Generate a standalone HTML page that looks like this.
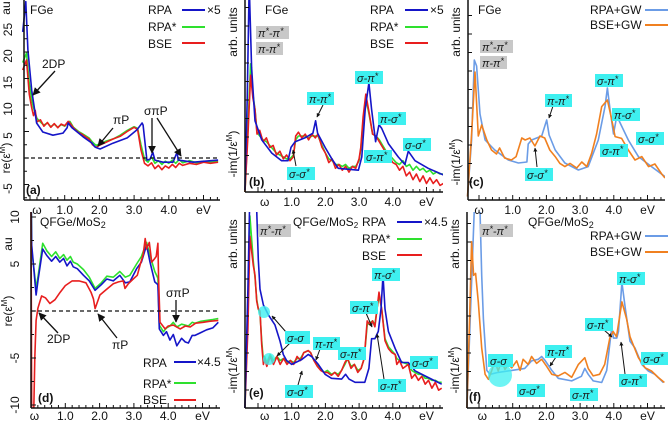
<!DOCTYPE html>
<html><head><meta charset="utf-8"><style>
html,body{margin:0;padding:0;background:#fff;}
svg{display:block;font-family:"Liberation Sans",sans-serif;}
.t{font-size:12px;fill:#111;}
.lb{font-size:11px;font-style:italic;fill:#1a1a1a;}
</style></head><body>
<svg id="fig" width="668" height="424" viewBox="0 0 668 424" xmlns="http://www.w3.org/2000/svg">
<defs>
<marker id="ah" viewBox="0 0 10 10" refX="9" refY="5" markerWidth="6" markerHeight="6" orient="auto"><path d="M0,0 L10,5 L0,10 z" fill="#111"/></marker>
<marker id="ahs" viewBox="0 0 10 10" refX="9" refY="5" markerWidth="4" markerHeight="4" orient="auto"><path d="M0,0 L10,5 L0,10 z" fill="#111"/></marker>
</defs>
<g id="layer-curves"></g>
<g id="layer-axes"></g>

<g>
<text class="t" x="30" y="14">FGe</text>
<text class="t" x="148" y="14" font-size="13">RPA</text>
<line x1="182" y1="10" x2="205" y2="10" stroke="#1515c8" stroke-width="2"/>
<text class="t" x="207" y="14">×5</text>
<text class="t" x="148" y="31" font-size="13">RPA*</text>
<line x1="182" y1="27" x2="205" y2="27" stroke="#2ee02e" stroke-width="2"/>
<text class="t" x="148" y="48" font-size="13">BSE</text>
<line x1="182" y1="43" x2="205" y2="43" stroke="#e81e1e" stroke-width="2"/>
<text class="t" x="42" y="68">2DP</text>
<line x1="55" y1="71" x2="33" y2="95" stroke="#111" stroke-width="1.3" marker-end="url(#ah)"/>
<text class="t" x="113" y="124">πP</text>
<line x1="113" y1="128" x2="98" y2="146" stroke="#111" stroke-width="1.3" marker-end="url(#ah)"/>
<text class="t" x="144" y="115">σπP</text>
<line x1="152" y1="118" x2="152" y2="153" stroke="#111" stroke-width="1.3" marker-end="url(#ah)"/>
<line x1="157" y1="118" x2="181" y2="156" stroke="#111" stroke-width="1.3" marker-end="url(#ah)"/>
<text class="t" x="26" y="194" font-weight="bold">(a)</text>
</g>
<g>
<text class="t" x="265" y="14">FGe</text>
<text class="t" x="370" y="14" font-size="13">RPA</text>
<line x1="405" y1="10" x2="428" y2="10" stroke="#1515c8" stroke-width="2"/>
<text class="t" x="430" y="14">×5</text>
<text class="t" x="370" y="31" font-size="13">RPA*</text>
<line x1="405" y1="27" x2="428" y2="27" stroke="#2ee02e" stroke-width="2"/>
<text class="t" x="370" y="48" font-size="13">BSE</text>
<line x1="405" y1="43" x2="428" y2="43" stroke="#e81e1e" stroke-width="2"/>
<text class="t" x="249" y="186" font-weight="bold">(b)</text>
<line x1="323" y1="105" x2="317" y2="117" stroke="#111" marker-end="url(#ahs)"/>
<line x1="296" y1="166" x2="293" y2="150" stroke="#111" marker-end="url(#ahs)"/>
</g>
<g>
<text class="t" x="478" y="14">FGe</text>
<text class="t" x="590" y="14" font-size="13">RPA+GW</text>
<line x1="645" y1="10" x2="668" y2="10" stroke="#6b9ce6" stroke-width="2"/>
<text class="t" x="590" y="29" font-size="13">BSE+GW</text>
<line x1="645" y1="25" x2="668" y2="25" stroke="#f08020" stroke-width="2"/>
<text class="t" x="469" y="186" font-weight="bold">(c)</text>
<line x1="553" y1="106" x2="549" y2="118" stroke="#111" marker-end="url(#ahs)"/>
<line x1="537" y1="167" x2="535" y2="148" stroke="#111" marker-end="url(#ahs)"/>
</g>
<g>
<text class="t" x="40" y="226">QFGe/MoS<tspan font-size="9" dy="2">2</tspan></text>
<text class="t" x="143" y="367" font-size="13">RPA</text>
<line x1="174" y1="362" x2="196" y2="362" stroke="#1515c8" stroke-width="2"/>
<text class="t" x="197" y="366">×4.5</text>
<text class="t" x="143" y="388" font-size="13">RPA*</text>
<line x1="174" y1="383" x2="196" y2="383" stroke="#2ee02e" stroke-width="2"/>
<text class="t" x="143" y="404" font-size="13">BSE</text>
<line x1="174" y1="400" x2="196" y2="400" stroke="#e81e1e" stroke-width="2"/>
<text class="t" x="38" y="402" font-weight="bold">(d)</text>
<text class="t" x="47" y="343">2DP</text>
<line x1="58" y1="333" x2="39" y2="313" stroke="#111" stroke-width="1.3" marker-end="url(#ah)"/>
<text class="t" x="112" y="349">πP</text>
<line x1="117" y1="338" x2="98" y2="314" stroke="#111" stroke-width="1.3" marker-end="url(#ah)"/>
<text class="t" x="166" y="297">σπP</text>
<line x1="176" y1="300" x2="176" y2="322" stroke="#111" stroke-width="1.3" marker-end="url(#ah)"/>
</g>
<g>
<circle cx="264" cy="312" r="6" fill="#3ef0f0" opacity="0.8"/>
<circle cx="269" cy="359" r="6" fill="#3ef0f0" opacity="0.8"/>
<text class="t" x="293" y="226" font-size="11.5">QFGe/MoS<tspan font-size="8" dy="2">2</tspan></text>
<text class="t" x="362" y="226" font-size="13">RPA</text>
<line x1="397" y1="222" x2="422" y2="222" stroke="#1515c8" stroke-width="2"/>
<text class="t" x="424" y="226">×4.5</text>
<text class="t" x="362" y="243" font-size="13">RPA*</text>
<line x1="397" y1="239" x2="422" y2="239" stroke="#2ee02e" stroke-width="2"/>
<text class="t" x="362" y="260" font-size="13">BSE</text>
<line x1="397" y1="255" x2="422" y2="255" stroke="#e81e1e" stroke-width="2"/>
<text class="t" x="249" y="397" font-weight="bold">(e)</text>
<line x1="286" y1="332" x2="272" y2="316" stroke="#111" marker-end="url(#ahs)"/>
<line x1="290" y1="343" x2="277" y2="356" stroke="#111" marker-end="url(#ahs)"/>
<line x1="320" y1="349" x2="316" y2="360" stroke="#111" marker-end="url(#ahs)"/>
<line x1="298" y1="385" x2="302" y2="371" stroke="#111" marker-end="url(#ahs)"/>
<line x1="366" y1="313" x2="372" y2="327" stroke="#111" marker-end="url(#ahs)"/>
<line x1="384" y1="379" x2="377" y2="334" stroke="#111" marker-end="url(#ahs)"/>
</g>
<g>
<circle cx="500" cy="375" r="12" fill="#3ef0f0" opacity="0.75"/>
<text class="t" x="528" y="226">QFGe/MoS<tspan font-size="9" dy="2">2</tspan></text>
<text class="t" x="590" y="240" font-size="13">RPA+GW</text>
<line x1="645" y1="236" x2="668" y2="236" stroke="#6b9ce6" stroke-width="2"/>
<text class="t" x="590" y="256" font-size="13">BSE+GW</text>
<line x1="645" y1="252" x2="668" y2="252" stroke="#f08020" stroke-width="2"/>
<text class="t" x="469" y="401" font-weight="bold">(f)</text>
<line x1="604" y1="330" x2="612" y2="337" stroke="#111" marker-end="url(#ahs)"/>
<line x1="556" y1="357" x2="550" y2="366" stroke="#111" marker-end="url(#ahs)"/>
<line x1="625" y1="374" x2="621" y2="342" stroke="#111" marker-end="url(#ahs)"/>
</g>
<g id="layer-labels"></g>
</svg>
<script>
const aE_rpa=[-0.21,-0.12,-0.06,0.05,0.19,0.37,0.66,0.95,1.07,1.1,1.21,1.53,1.79,1.87,1.93,2.02,2.39,2.8,3.08,3.23,3.26,3.37,3.46,3.54,3.6,3.83,4.12,4.24,4.27,4.7,5.42];
const aV_rpa=[23.8,29.5,20.4,12.8,6.6,4.9,4.3,4.7,5.7,6.6,5.7,4.0,2.8,2.1,1.9,1.7,2.8,3.8,5.3,6.6,6.2,-0.4,-0.2,1.1,-0.4,-0.8,-0.8,1.1,-0.4,-0.8,-0.4];
const aE_x=[-0.21,-0.1,-0.02,0.05,0.1,0.15,0.2,0.3,0.4,0.5,0.6,0.7,0.8,0.9,1.0,1.1,1.15,1.25,1.4,1.5,1.6,1.7,1.8,1.9,2.0,2.2,2.4,2.6,2.8,3.0,3.1,3.2,3.3,3.4,3.5,3.6,3.7,3.8,3.9,4.0,4.1,4.2,4.3,4.4,4.6,4.8,5.0,5.2,5.42];
const aV_rpas=[18.0,19.8,14,11,9.5,8.5,7.5,6.8,6.2,6.6,5.9,6.4,5.8,6.3,6.0,6.8,6.9,5.8,5.0,4.6,4.2,3.8,3.0,2.4,2.6,3.2,3.6,4.3,5.2,5.9,5.6,2.5,-0.2,-0.8,0.2,-1.0,-0.5,-1.2,-0.6,-1.0,-0.4,-1.0,-0.3,-0.9,-0.5,-0.9,-0.6,-0.8,-0.6];
const aV_bse=[16.6,18.5,12,9.5,8.0,9.0,6.8,7.2,6.0,6.7,5.8,6.5,5.7,6.4,6.1,6.9,6.6,5.7,4.8,4.5,4.0,3.6,2.5,2.0,2.4,3.0,3.6,4.1,5.0,5.8,5.4,1.5,-1.0,-1.5,-0.9,-2.0,-1.4,-2.2,-1.5,-1.9,-1.2,-1.8,-1.0,-1.4,-1.0,-1.2,-0.8,-1.0,-0.8];

const bE_rpa=[-0.39,-0.32,-0.26,-0.19,-0.09,0.11,0.41,0.7,0.89,0.98,1.1,1.39,1.63,1.71,1.77,1.99,2.19,2.38,2.98,3.08,3.18,3.29,3.37,3.49,3.59,3.67,3.87,4.16,4.36,4.46,4.66,5.05,5.5];
const bV_rpa=[1.6,49,110,66,38,28,21,17,17,24,27,29,31.5,38,31.5,24,18,13,12,19,44,58,44,27,36,34,26,19,15,22,17,13,9.5];
const bE_x=[-0.39,-0.3,-0.22,-0.15,-0.09,-0.03,0.05,0.15,0.25,0.35,0.45,0.55,0.65,0.75,0.85,0.95,1.05,1.12,1.2,1.3,1.4,1.5,1.6,1.7,1.78,1.9,2.0,2.1,2.2,2.3,2.4,2.5,2.6,2.7,2.8,2.9,3.0,3.05,3.12,3.2,3.3,3.4,3.5,3.6,3.7,3.8,3.9,4.0,4.1,4.2,4.3,4.4,4.5,4.6,4.7,4.8,4.9,5.0,5.1,5.2,5.3,5.4,5.5];
const bV_rpas=[0,34,68,52,44,32,30,28,27,25,23,21,20,19,18,18,20,28,30,30,30,29,30,30,30,25,21,18,17,15,15,14,15,13,14,14,17,23,38,50,41,31,30,28,25,22,20,18,16,15,17,14,15,12,14,12,13,11,12,10,11,10,10];
const bV_bse=[0,30,62,50,44,31,33,27,29,24,25,20,22,18,20,17,19,30,32,29,31,28,31,29,31,24,21,16,18,13,15,12,14,11,14,13,18,24,40,52,42,31,30,27,24,21,19,16,15,12,14,9,11,7,10,6,9,5,8,5,7,4,5];

const cE_rpagw=[-0.34,-0.22,-0.14,-0.07,0.03,0.18,0.47,0.87,1.17,1.42,1.46,1.56,1.86,2.01,2.08,2.26,2.55,2.95,3.24,3.54,3.74,3.81,3.89,3.99,4.09,4.23,4.43,4.73,5.12,5.52];
const cV_rpagw=[1.7,30,70,67,43,30,25,20,18.5,19,28,30,32,40,32.5,25,18.5,15,16.7,30,46.7,56,45,33,42,37,30,21.7,16.7,11.7];
const cE_bsegw=[-0.34,-0.22,-0.12,-0.02,0.08,0.23,0.37,0.52,0.61,0.76,0.96,1.1,1.27,1.37,1.51,1.66,1.81,1.95,2.1,2.26,2.4,2.55,2.7,2.9,3.05,3.2,3.34,3.49,3.64,3.81,3.94,4.04,4.23,4.43,4.63,4.83,5.03,5.22,5.42,5.52];
const cV_bsegw=[1.7,33,64,32,37.5,30,25,23,26,21,20,21.7,31,30,31,27,32,31,25,21.7,18.3,16.7,18.3,16,19,16.7,23.3,33,46.7,50,40,31.7,30.8,25,20,21.7,16.7,18,13,11];

const dE_x=[0.0,0.01,0.02,0.07,0.15,0.21,0.34,0.46,0.6,0.72,0.84,0.95,1.05,1.15,1.23,1.35,1.53,1.7,1.87,2.05,2.21,2.4,2.59,2.75,2.88,3.08,3.22,3.37,3.47,3.61,3.7,3.74,3.86,3.95,4.05,4.15,4.25,4.39,4.5,4.59,4.7,4.78,4.95,5.12,5.3,5.46];
const dV_rpa=[12,11,7.0,5.0,1.7,3.4,6.6,5.9,5.3,5.8,5.2,5.6,4.8,5.3,4.7,4.5,3.8,3.2,2.2,2.8,3.4,3.2,3.8,3.0,3.1,4.5,5.2,7.0,5.2,3.1,2.8,-1.9,-2.6,-2.2,-3.1,-2.5,-3.7,-2.9,-3.3,-3.4,-2.6,-2.6,-2.3,-2.0,-1.8,-1.2];
const dV_rpas=[12,11,6.5,5.0,2.4,3.8,7.2,6.4,5.8,6.3,5.6,6.0,5.4,5.8,5.2,5.0,4.4,3.6,2.4,3.0,3.7,3.6,4.2,3.6,3.8,5.0,5.8,7.3,5.9,4.2,3.5,-1.5,-2.2,-1.8,-1.6,-1.2,-1.7,-1.4,-1.5,-1.6,-1.2,-1.3,-1.1,-1.0,-0.9,-0.8];
const dE_bse=[0.0,0.02,0.04,0.06,0.08,0.11,0.15,0.2,0.31,0.42,0.55,0.7,0.85,1.0,1.2,1.4,1.6,1.75,1.82,1.87,2.01,2.2,2.4,2.55,2.69,2.74,2.84,2.98,3.1,3.18,3.27,3.33,3.37,3.45,3.52,3.59,3.65,3.7,3.72,3.76,3.91,4.0,4.15,4.35,4.5,4.64,4.8,5.02,5.2,5.46];
const dV_bse=[11,-11,-11,-11,-11,-5,-1,0.3,1.6,1.4,0.8,1.2,2.0,2.7,3.2,3.2,3.0,2.0,1.3,0.25,1.7,2.3,2.9,3.1,3.2,2.4,2.9,3.4,3.8,4.9,6.0,7.7,6.6,7.3,5.2,5.5,5.8,7.2,3.4,-1.2,-1.9,-1.6,-1.5,-1.9,-1.6,-1.7,-1.3,-1.2,-1.1,-1.0];

const eE_rpa=[-0.39,-0.3,-0.24,-0.1,-0.04,0.01,0.06,0.16,0.31,0.5,0.65,0.75,0.85,1.0,1.3,1.49,1.59,1.79,1.99,2.18,2.48,2.6,2.7,2.88,3.17,3.29,3.37,3.47,3.57,3.65,3.71,3.77,3.87,4.07,4.26,4.46,4.66,5.05,5.45];
const eV_rpa=[0,60,110,110,100,75,60,52,47,42,34,27,24,22,24.5,27,26,22,17,15,14.6,17,14.6,13,13,20,35,35,38.7,50,67,50,38.7,30,23,23,18.8,15.4,12];
const eE_x=[-0.39,-0.3,-0.24,-0.14,-0.09,-0.04,0.01,0.06,0.11,0.16,0.2,0.26,0.36,0.46,0.56,0.66,0.76,0.86,0.96,1.06,1.16,1.26,1.36,1.49,1.56,1.66,1.76,1.86,1.96,2.06,2.18,2.28,2.38,2.48,2.58,2.66,2.76,2.86,2.96,3.06,3.15,3.24,3.32,3.4,3.47,3.53,3.59,3.67,3.77,3.87,3.97,4.07,4.12,4.2,4.3,4.46,4.56,4.66,4.76,4.86,4.96,5.06,5.16,5.26,5.36,5.45];
const eV_bse=[0,40,86.7,72,67,54,50,49,32,22,25,21,26,22,26,22,25,22,24,22,26,24,28,29,28,24,21,19,18,18,16.5,18,16,19,23,25,20,22,18,20,25,44,42,44,41,50,58.5,50,34,30,28,27,22,24,20,22,15,17,14,16,12,14,10,13,9,10];
const eV_rpas=[0,48,97,74,66,55,50,48,34,24,26,23,27,24,26,24,25,23,24,23,25,25,28,29,28,24,22,20,18,19,17,18,17,19,22,25,21,22,19,20,25,42,43,44,42,50,57,50,35,31,29,27,25,24,23,22,19,18,17,17,15,15,14,14,13,13];

const fE_rpagw=[-0.36,-0.25,-0.12,-0.07,0.03,0.08,0.13,0.23,0.33,0.57,0.97,1.36,1.56,1.76,1.86,1.96,2.16,2.35,2.75,3.04,3.14,3.24,3.39,3.64,3.79,3.94,3.99,4.09,4.14,4.24,4.34,4.48,4.63,4.83,5.02,5.22,5.47];
const fV_rpagw=[0,50,110,110,100,67,45,19,17,18,19,20,23.8,24.6,26,24,19,15,13.7,16,20,17,13.7,12.9,19,41,35.3,35.3,38.7,63.5,50.3,33.7,30.3,22,18.7,17,12.9];
const fE_bsegw=[-0.36,-0.28,-0.22,-0.16,-0.1,-0.02,0.08,0.18,0.28,0.38,0.47,0.57,0.67,0.77,0.87,0.97,1.12,1.22,1.31,1.46,1.56,1.71,1.86,2.01,2.16,2.35,2.55,2.75,2.95,3.14,3.24,3.39,3.58,3.73,3.88,3.98,4.08,4.24,4.38,4.48,4.58,4.73,4.93,5.12,5.32,5.5];
const fV_bsegw=[0,45,84,67,68,53.6,30.3,17,14.5,19,23.8,18.7,24,19.5,22,20.3,23.8,19,24.6,22,26,22.5,24.6,21,17,16.2,18,15.5,22,25.4,20,16.2,17,22,35.3,38.7,36,53.6,45,36,31.8,25.4,20.3,18.7,15.4,12.9];

const xTickLabels=["1.0","2.0","3.0","4.0"];
const aYTicks=[25,20,15,10,5,-5];
const dYTicks=[10,5,-5,-10];

const NS="http://www.w3.org/2000/svg";
const P={
 a:{l:24,r:220,t:0,b:200,x0:30,k:34.7,y0:158,s:5.3,lab:210,om:0.2},
 b:{l:245,r:443,t:0,b:192,x0:258,k:33.7,y0:193,s:1.9,lab:202,om:0.2},
 c:{l:468,r:665,t:0,b:200,x0:479,k:33.7,y0:200,s:2,lab:210,om:0.0},
 d:{l:31,r:220,t:212,b:408,x0:31,k:34.3,y0:311,s:9.4,lab:416,om:0.1},
 e:{l:245,r:443,t:212,b:408,x0:258,k:33.7,y0:408,s:1.98,lab:416,om:0.2},
 f:{l:467,r:665,t:212,b:408,x0:479,k:33.7,y0:408,s:1.98,lab:416,om:0.1}
};
function X(p,e){return p.x0+p.k*e;}
function Y(p,v){return p.y0-p.s*v;}
const curves=document.getElementById('layer-curves');
const axes=document.getElementById('layer-axes');
const defs=document.querySelector('defs');
function el(tag,attrs,parent){const n=document.createElementNS(NS,tag);for(const k in attrs)n.setAttribute(k,attrs[k]);parent.appendChild(n);return n;}

for(const key in P){
 const p=P[key];
 const cp=el('clipPath',{id:'clip-'+key},defs);
 el('rect',{x:p.l-4,y:p.t,width:p.r-p.l+4,height:p.b-p.t},cp);
}
function series(key,E,V,color,name,w){
 const p=P[key];
 let d='';
 for(let i=0;i<E.length;i++){d+=(i?'L':'M')+X(p,E[i]).toFixed(1)+','+Y(p,V[i]).toFixed(1);}
 const path=el('path',{d:d,fill:'none',stroke:color,'stroke-width':w||1.6,'stroke-linejoin':'round','clip-path':'url(#clip-'+key+')'},curves);
 
 
}
const BL='#1515c8',GR='#2ee02e',RD='#e81e1e',LB='#6b9ce6',OR='#f08020';
series('a',aE_x,aV_rpas,GR,'series-a-rpa-star');
series('a',aE_x,aV_bse,RD,'series-a-bse');
series('a',aE_rpa,aV_rpa,BL,'series-a-rpa');
series('b',bE_x,bV_rpas,GR,'series-b-rpa-star');
series('b',bE_x,bV_bse,RD,'series-b-bse');
series('b',bE_rpa,bV_rpa,BL,'series-b-rpa');
series('c',cE_rpagw,cV_rpagw,LB,'series-c-rpa-gw');
series('c',cE_bsegw,cV_bsegw,OR,'series-c-bse-gw');
series('d',dE_x,dV_rpas,GR,'series-d-rpa-star');
series('d',dE_x,dV_rpa,BL,'series-d-rpa');
series('d',dE_bse,dV_bse,RD,'series-d-bse');
series('e',eE_x,eV_rpas,GR,'series-e-rpa-star');
series('e',eE_x,eV_bse,RD,'series-e-bse');
series('e',eE_rpa,eV_rpa,BL,'series-e-rpa');
series('f',fE_rpagw,fV_rpagw,LB,'series-f-rpa-gw');
series('f',fE_bsegw,fV_bsegw,OR,'series-f-bse-gw');

for(const key of ['a','d']){
 const p=P[key];
 const z=el('line',{x1:p.l,x2:p.r,y1:Y(p,0),y2:Y(p,0),stroke:'#111','stroke-width':1.2,'stroke-dasharray':'4,3'},axes);
 
 
}
function rtext(x,y,txt,parent){const t=el('text',{x:x,y:y,class:'t',transform:'rotate(-90 '+x+' '+y+')','text-anchor':'middle'},parent);t.textContent=txt;return t;}
for(const key in P){
 const p=P[key];
 const g=el('g',{},axes);
 
 
 el('line',{x1:p.l,x2:p.l,y1:p.t,y2:p.b,stroke:'#111','stroke-width':1.5},g);
 el('line',{x1:p.l,x2:p.r,y1:p.b,y2:p.b,stroke:'#111','stroke-width':1.5},g);
 for(let e=0;e<=5.41;e+=0.2){
  const x=X(p,e); if(x<p.l||x>p.r)continue;
  const big=Math.abs(e-Math.round(e))<0.01;
  el('line',{x1:x,x2:x,y1:p.b,y2:p.b-(big?5:3),stroke:'#111'},g);
 }
 xTickLabels.forEach((s,i)=>{const t=el('text',{x:X(p,i+1),y:p.lab+4,class:'t','text-anchor':'middle'},g);t.textContent=s;});
 const om=el('text',{x:X(p,p.om),y:p.lab+4,class:'t','text-anchor':'middle'},g);om.textContent='ω';
 
 
 const ev=el('text',{x:X(p,5),y:p.lab+4,class:'t','text-anchor':'middle'},g);ev.textContent='eV';
 
 
 if(key==='a'||key==='d'){
  const ticks=key==='a'?aYTicks:dYTicks;
  for(let v=-12.5;v<=30;v+=2.5){const y=Y(p,v);if(y<p.t||y>p.b)continue;el('line',{x1:p.l,x2:p.l+(v%5===0?5:3),y1:y,y2:y,stroke:'#111'},g);}
  ticks.forEach(v=>{const t=rtext(p.l-12,Y(p,v)+(key==='a'?4:0),String(v),g);});
  const au=rtext(p.l-(key==='a'?14:19),p.t+(key==='a'?8:32),'au',g);
  
  
  const yl=rtext(p.l-(key==='a'?14:19),Y(p,0),'',g);
  yl.innerHTML='re(ε<tspan font-size="8" dy="-5">M</tspan><tspan dy="5">)</tspan>';
  
  
 } else {
  for(let y=p.b-18;y>p.t;y-=18.5){el('line',{x1:p.l,x2:p.l+4,y1:y,y2:y,stroke:'#111'},g);}
  const au=rtext(p.l-8,p.t+32,'arb. units',g);
  
  
  const yl=rtext(p.l-8,p.b-38,'',g);
  yl.innerHTML='-im(1/ε<tspan font-size="8" dy="-5">M</tspan><tspan dy="5">)</tspan>';
  
  
 }
}
const LBL=document.getElementById('layer-labels');
function box(x,y,w,a,b,fill,nm){
 const g=el('g',{},LBL);
 
 
 el('rect',{x:x,y:y,width:w,height:13,fill:fill},g);
 const t=el('text',{x:x+2,y:y+11,class:'lb'},g);
 t.innerHTML=a+(b?'<tspan font-size="9" dy="-3">*</tspan>':'');
}
const C='#3ef0f0',G='#c8c8c8';
box(256,26,33,'π<tspan font-size="9" dy="-3">*</tspan><tspan dy="3">-π</tspan>',1,G,'label-b-pistar-pistar');
box(256,42,27,'π-π',1,G,'label-b-pi-pistar');
box(480,40,33,'π<tspan font-size="9" dy="-3">*</tspan><tspan dy="3">-π</tspan>',1,G,'label-c-pistar-pistar');
box(480,56,27,'π-π',1,G,'label-c-pi-pistar');
box(258,224,33,'π<tspan font-size="9" dy="-3">*</tspan><tspan dy="3">-π</tspan>',1,G,'label-e-pistar-pistar');
box(480,224,33,'π<tspan font-size="9" dy="-3">*</tspan><tspan dy="3">-π</tspan>',1,G,'label-f-pistar-pistar');
box(355,71,28,'σ-π',1,C,'label-b-sigma-pistar');
box(307,92,27,'π-π',1,C,'label-b-pi-pistar-2');
box(378,112,28,'π-σ',1,C,'label-b-pi-sigmastar');
box(364,150,28,'σ-π',1,C,'label-b-sigma-pistar-2');
box(403,138,28,'σ-σ',1,C,'label-b-sigma-sigmastar');
box(287,167,28,'σ-σ',1,C,'label-b-sigma-sigmastar-2');
box(595,74,28,'σ-π',1,C,'label-c-sigma-pistar');
box(545,94,27,'π-π',1,C,'label-c-pi-pistar-2');
box(612,108,28,'π-σ',1,C,'label-c-pi-sigmastar');
box(600,144,28,'σ-π',1,C,'label-c-sigma-pistar-2');
box(636,132,28,'σ-σ',1,C,'label-c-sigma-sigmastar');
box(525,168,28,'σ-σ',1,C,'label-c-sigma-sigmastar-2');
box(372,268,28,'π-σ',1,C,'label-e-pi-sigmastar');
box(350,301,28,'σ-π',1,C,'label-e-sigma-pistar');
box(285,331,25,'σ-σ',0,C,'label-e-sigma-sigma');
box(313,337,27,'π-π',1,C,'label-e-pi-pistar');
box(338,347,28,'σ-π',1,C,'label-e-sigma-pistar-2');
box(410,356,28,'σ-σ',1,C,'label-e-sigma-sigmastar');
box(285,385,28,'σ-σ',1,C,'label-e-sigma-sigmastar-2');
box(378,379,28,'σ-π',1,C,'label-e-sigma-pistar-3');
box(617,272,28,'π-σ',1,C,'label-f-pi-sigmastar');
box(585,318,28,'σ-π',1,C,'label-f-sigma-pistar');
box(488,354,25,'σ-σ',0,C,'label-f-sigma-sigma');
box(545,345,27,'π-π',1,C,'label-f-pi-pistar');
box(641,352,27,'σ-σ',1,C,'label-f-sigma-sigmastar');
box(517,384,28,'σ-σ',1,C,'label-f-sigma-sigmastar-2');
box(570,388,28,'σ-π',1,C,'label-f-sigma-pistar-2');
box(619,374,28,'σ-π',1,C,'label-f-sigma-pistar-3');
</script>
</body></html>
